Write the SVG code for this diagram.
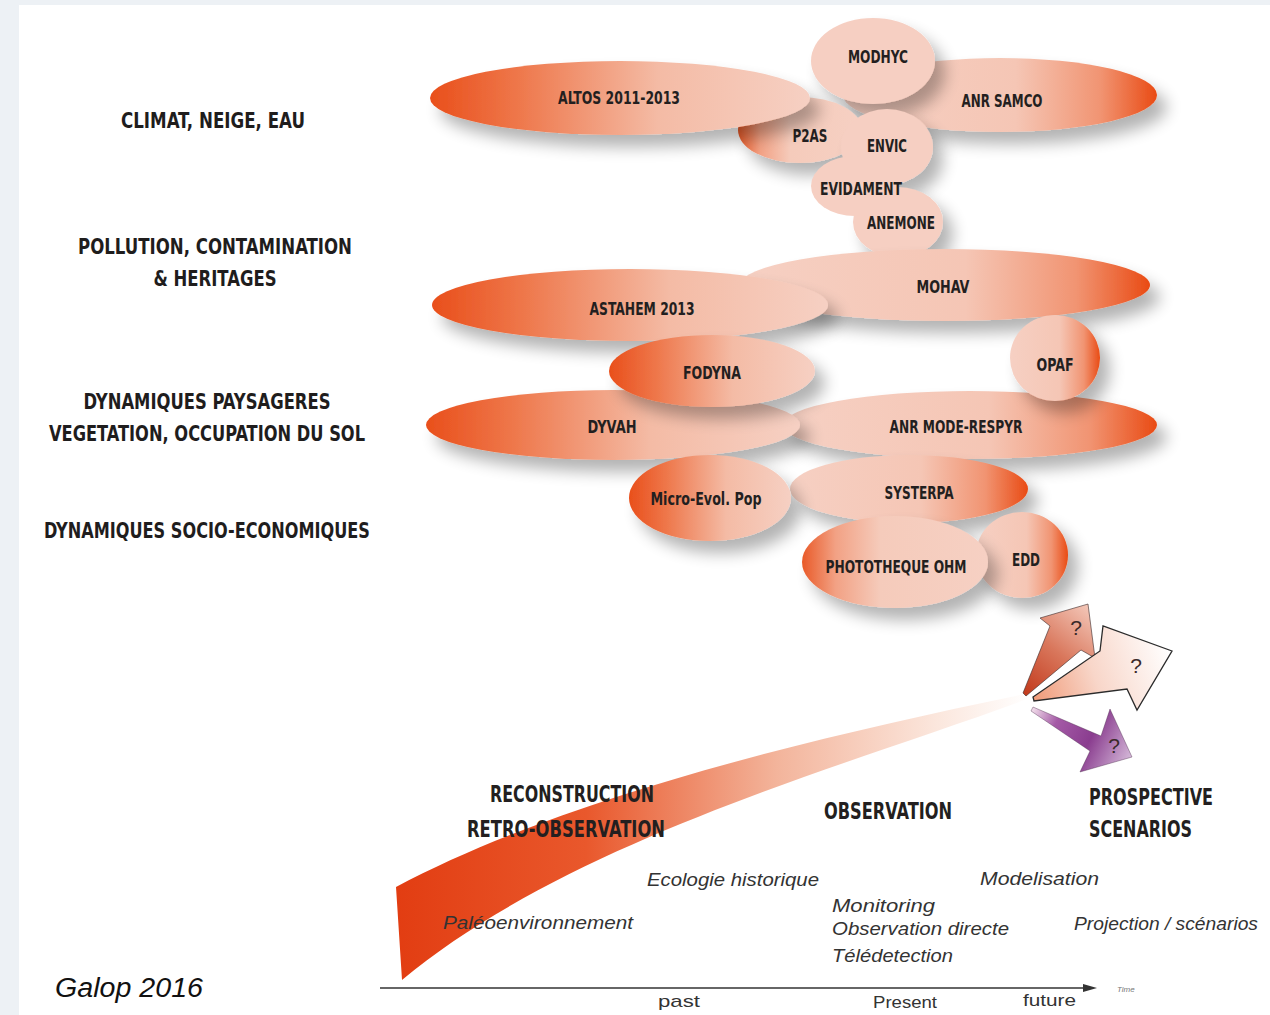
<svg xmlns="http://www.w3.org/2000/svg" width="1270" height="1015" viewBox="0 0 1270 1015">
<defs>
<style>
.cat{font-family:"Liberation Sans Narrow","DejaVu Sans Condensed","Liberation Sans",sans-serif;font-weight:bold;font-size:21px;fill:#1f1d1d;text-anchor:middle}
.nd{font-family:"Liberation Sans Narrow","DejaVu Sans Condensed","Liberation Sans",sans-serif;font-weight:bold;font-size:17px;fill:#231f20;text-anchor:middle}
.hd{font-family:"Liberation Sans Narrow","DejaVu Sans Condensed","Liberation Sans",sans-serif;font-weight:bold;font-size:23px;fill:#231f20}
.it{font-family:"Liberation Sans","Open Sans",sans-serif;font-style:italic;font-size:19px;fill:#333}
.ax{font-family:"Liberation Sans","Open Sans",sans-serif;font-size:17px;fill:#333}
.q{font-family:"Liberation Sans","Open Sans",sans-serif;font-size:21px;fill:#3a2a2a;text-anchor:middle}
</style>
<filter id="sh" x="-20%" y="-30%" width="150%" height="190%">
<feGaussianBlur in="SourceAlpha" stdDeviation="8"/>
<feOffset dx="10" dy="12"/>
<feComponentTransfer><feFuncA type="linear" slope="0.3"/></feComponentTransfer>
<feMerge><feMergeNode/><feMergeNode in="SourceGraphic"/></feMerge>
</filter>
<linearGradient id="gL" x1="0" y1="0" x2="1" y2="0">
<stop offset="0" stop-color="#e94f1b"/><stop offset="0.22" stop-color="#ee7548"/><stop offset="0.6" stop-color="#f4bba5"/><stop offset="1" stop-color="#f6d0c3"/>
</linearGradient>
<linearGradient id="gR" x1="0" y1="0" x2="1" y2="0">
<stop offset="0" stop-color="#f6d0c3"/><stop offset="0.55" stop-color="#f5c6b5"/><stop offset="0.82" stop-color="#f19472"/><stop offset="1" stop-color="#e94b14"/>
</linearGradient>
<linearGradient id="gLs" x1="0" y1="0" x2="1" y2="0">
<stop offset="0" stop-color="#e95a28"/><stop offset="0.18" stop-color="#f2a184"/><stop offset="0.42" stop-color="#f5cbbb"/><stop offset="1" stop-color="#f6d0c3"/>
</linearGradient>
<linearGradient id="swoosh" gradientUnits="userSpaceOnUse" x1="396" y1="0" x2="1030" y2="0">
<stop offset="0" stop-color="#e23d12"/><stop offset="0.3" stop-color="#e9582c"/><stop offset="0.6" stop-color="#f3b49b"/><stop offset="0.85" stop-color="#fbe6dc"/><stop offset="1" stop-color="#ffffff"/>
</linearGradient>
<linearGradient id="a1" gradientUnits="userSpaceOnUse" x1="1023" y1="693" x2="1090" y2="610">
<stop offset="0" stop-color="#c23a1c"/><stop offset="0.5" stop-color="#d9775c"/><stop offset="1" stop-color="#f2c3b4"/>
</linearGradient>
<linearGradient id="a2" gradientUnits="userSpaceOnUse" x1="1033" y1="698" x2="1170" y2="650">
<stop offset="0" stop-color="#f09a78"/><stop offset="0.45" stop-color="#f8d6c9"/><stop offset="1" stop-color="#ffffff"/>
</linearGradient>
<linearGradient id="a3" gradientUnits="userSpaceOnUse" x1="1033" y1="708" x2="1130" y2="757">
<stop offset="0" stop-color="#f1dcea"/><stop offset="0.25" stop-color="#a45aa6"/><stop offset="0.6" stop-color="#8a3d8f"/><stop offset="1" stop-color="#d2b4d6"/>
</linearGradient>
</defs>

<rect x="0" y="0" width="1270" height="1015" fill="#edf1f5"/>
<rect x="19" y="5" width="1251" height="1010" fill="#ffffff"/>

<g id="categories">
<text class="cat" x="213" y="128" textLength="184" lengthAdjust="spacingAndGlyphs">CLIMAT, NEIGE, EAU</text>
<text class="cat" x="215" y="254" textLength="274" lengthAdjust="spacingAndGlyphs">POLLUTION, CONTAMINATION</text>
<text class="cat" x="215" y="286" textLength="123" lengthAdjust="spacingAndGlyphs">&amp; HERITAGES</text>
<text class="cat" x="207" y="409" textLength="247" lengthAdjust="spacingAndGlyphs">DYNAMIQUES PAYSAGERES</text>
<text class="cat" x="207" y="441" textLength="316" lengthAdjust="spacingAndGlyphs">VEGETATION, OCCUPATION DU SOL</text>
<text class="cat" x="207" y="538" textLength="326" lengthAdjust="spacingAndGlyphs">DYNAMIQUES SOCIO-ECONOMIQUES</text>
</g>

<g id="anr-samco"><ellipse cx="1000" cy="95" rx="157" ry="37" fill="url(#gR)" filter="url(#sh)"/><text class="nd" x="1002" y="107" textLength="81" lengthAdjust="spacingAndGlyphs">ANR SAMCO</text></g>
<g id="modhyc"><ellipse cx="873" cy="61" rx="62" ry="43" fill="#f6cfc2" filter="url(#sh)"/><text class="nd" x="878" y="63" textLength="60" lengthAdjust="spacingAndGlyphs">MODHYC</text></g>
<g id="p2as"><ellipse cx="800" cy="130" rx="62" ry="33" fill="url(#gLs)" filter="url(#sh)"/><text class="nd" x="810" y="142" textLength="35" lengthAdjust="spacingAndGlyphs">P2AS</text></g>
<g id="altos"><ellipse cx="620" cy="98" rx="190" ry="37" fill="url(#gL)" filter="url(#sh)"/><text class="nd" x="619" y="104" textLength="122" lengthAdjust="spacingAndGlyphs">ALTOS 2011-2013</text></g>
<g id="envic"><ellipse cx="887" cy="147" rx="46" ry="38" fill="#f6cfc2" filter="url(#sh)"/><text class="nd" x="887" y="152" textLength="40" lengthAdjust="spacingAndGlyphs">ENVIC</text></g>
<g id="anemone"><ellipse cx="898" cy="222" rx="45" ry="35" fill="#f6cfc2" filter="url(#sh)"/><text class="nd" x="901" y="229" textLength="68" lengthAdjust="spacingAndGlyphs">ANEMONE</text></g>
<g id="evidament"><ellipse cx="855" cy="186" rx="44" ry="30" fill="#f6cfc2"/><text class="nd" x="861" y="195" textLength="82" lengthAdjust="spacingAndGlyphs">EVIDAMENT</text></g>
<g id="mohav"><ellipse cx="945" cy="285" rx="205" ry="36" fill="url(#gR)" filter="url(#sh)"/><text class="nd" x="943" y="293" textLength="53" lengthAdjust="spacingAndGlyphs">MOHAV</text></g>
<g id="astahem"><ellipse cx="630" cy="305" rx="198" ry="36" fill="url(#gL)" filter="url(#sh)"/><text class="nd" x="642" y="315" textLength="105" lengthAdjust="spacingAndGlyphs">ASTAHEM 2013</text></g>
<g id="anr-mode-respyr"><ellipse cx="970" cy="425" rx="187" ry="34" fill="url(#gR)" filter="url(#sh)"/><text class="nd" x="956" y="433" textLength="133" lengthAdjust="spacingAndGlyphs">ANR MODE-RESPYR</text></g>
<g id="opaf"><ellipse cx="1055" cy="358" rx="45" ry="43" fill="url(#gR)" filter="url(#sh)"/><text class="nd" x="1055" y="371" textLength="37" lengthAdjust="spacingAndGlyphs">OPAF</text></g>
<g id="dyvah"><ellipse cx="613" cy="425" rx="187" ry="35" fill="url(#gL)" filter="url(#sh)"/><text class="nd" x="612" y="433" textLength="49" lengthAdjust="spacingAndGlyphs">DYVAH</text></g>
<g id="fodyna"><ellipse cx="712" cy="371" rx="103" ry="36" fill="url(#gL)" filter="url(#sh)"/><text class="nd" x="712" y="379" textLength="58" lengthAdjust="spacingAndGlyphs">FODYNA</text></g>
<g id="systerpa"><ellipse cx="909" cy="489" rx="119" ry="34" fill="url(#gR)" filter="url(#sh)"/><text class="nd" x="919" y="499" textLength="69" lengthAdjust="spacingAndGlyphs">SYSTERPA</text></g>
<g id="micro-evol-pop"><ellipse cx="710" cy="498" rx="81" ry="43" fill="url(#gL)" filter="url(#sh)"/><text class="nd" x="706" y="505" textLength="111" lengthAdjust="spacingAndGlyphs">Micro-Evol. Pop</text></g>
<g id="edd"><ellipse cx="1022" cy="555" rx="46" ry="43" fill="url(#gR)" filter="url(#sh)"/><text class="nd" x="1026" y="566" textLength="28" lengthAdjust="spacingAndGlyphs">EDD</text></g>
<g id="phototheque-ohm"><ellipse cx="895" cy="562" rx="93" ry="46" fill="url(#gLs)" filter="url(#sh)"/><text class="nd" x="896" y="573" textLength="141" lengthAdjust="spacingAndGlyphs">PHOTOTHEQUE OHM</text></g>

<g id="connectors">
<path d="M396,887 C560,800 800,740 1030,693 L1030,698 C850,765 570,840 402,980 Z" fill="url(#swoosh)"/>
<path d="M1023,693 L1050,626 L1040,618 L1088,604 L1095,658 L1081,650 L1026,696 Z" fill="url(#a1)" stroke="#3a2a2a" stroke-width="1" stroke-opacity="0.6"/>
<path d="M1033,697 L1100,651 L1103,626 L1172,651 L1137,710 L1127,689 L1034,701 Z" fill="url(#a2)" stroke="#2b2b2b" stroke-width="1.3"/>
<path d="M1033,707 L1101,736 L1110,709 L1132,757 L1080,772 L1090,751 L1031,711 Z" fill="url(#a3)" stroke="#4a2a4a" stroke-width="0.8" stroke-opacity="0.5"/>
<line x1="380" y1="988" x2="1086" y2="988" stroke="#333" stroke-width="1.5"/>
<polygon points="1083,984 1097,988 1083,992" fill="#333"/>
</g>

<g id="marks">
<text class="q" x="1076" y="635">?</text>
<text class="q" x="1136" y="673">?</text>
<text class="q" x="1114" y="753">?</text>
</g>

<g id="phases">
<text class="hd" x="490" y="802" textLength="164" lengthAdjust="spacingAndGlyphs">RECONSTRUCTION</text>
<text class="hd" x="467" y="837" textLength="198" lengthAdjust="spacingAndGlyphs">RETRO-OBSERVATION</text>
<text class="hd" x="824" y="819" textLength="128" lengthAdjust="spacingAndGlyphs">OBSERVATION</text>
<text class="hd" x="1089" y="805" textLength="124" lengthAdjust="spacingAndGlyphs">PROSPECTIVE</text>
<text class="hd" x="1089" y="837" textLength="103" lengthAdjust="spacingAndGlyphs">SCENARIOS</text>
<text class="it" x="647" y="886" textLength="172" lengthAdjust="spacingAndGlyphs">Ecologie historique</text>
<text class="it" x="443" y="929" textLength="190" lengthAdjust="spacingAndGlyphs">Paléoenvironnement</text>
<text class="it" x="980" y="885" textLength="119" lengthAdjust="spacingAndGlyphs">Modelisation</text>
<text class="it" x="832" y="912" textLength="103" lengthAdjust="spacingAndGlyphs">Monitoring</text>
<text class="it" x="832" y="935" textLength="177" lengthAdjust="spacingAndGlyphs">Observation directe</text>
<text class="it" x="832" y="962" textLength="121" lengthAdjust="spacingAndGlyphs">Télédetection</text>
<text class="it" x="1074" y="930" textLength="184" lengthAdjust="spacingAndGlyphs">Projection / scénarios</text>
<text class="ax" x="658" y="1007" textLength="42" lengthAdjust="spacingAndGlyphs">past</text>
<text class="ax" x="873" y="1008" textLength="64" lengthAdjust="spacingAndGlyphs">Present</text>
<text class="ax" x="1023" y="1006" textLength="53" lengthAdjust="spacingAndGlyphs">future</text>
<text x="1117" y="992" font-family="Liberation Sans, sans-serif" font-style="italic" font-size="8" fill="#777">Time</text>
<text x="55" y="997" font-family="Liberation Sans, Open Sans, sans-serif" font-style="italic" font-size="27" fill="#111" textLength="148" lengthAdjust="spacingAndGlyphs">Galop 2016</text>
</g>
</svg>
